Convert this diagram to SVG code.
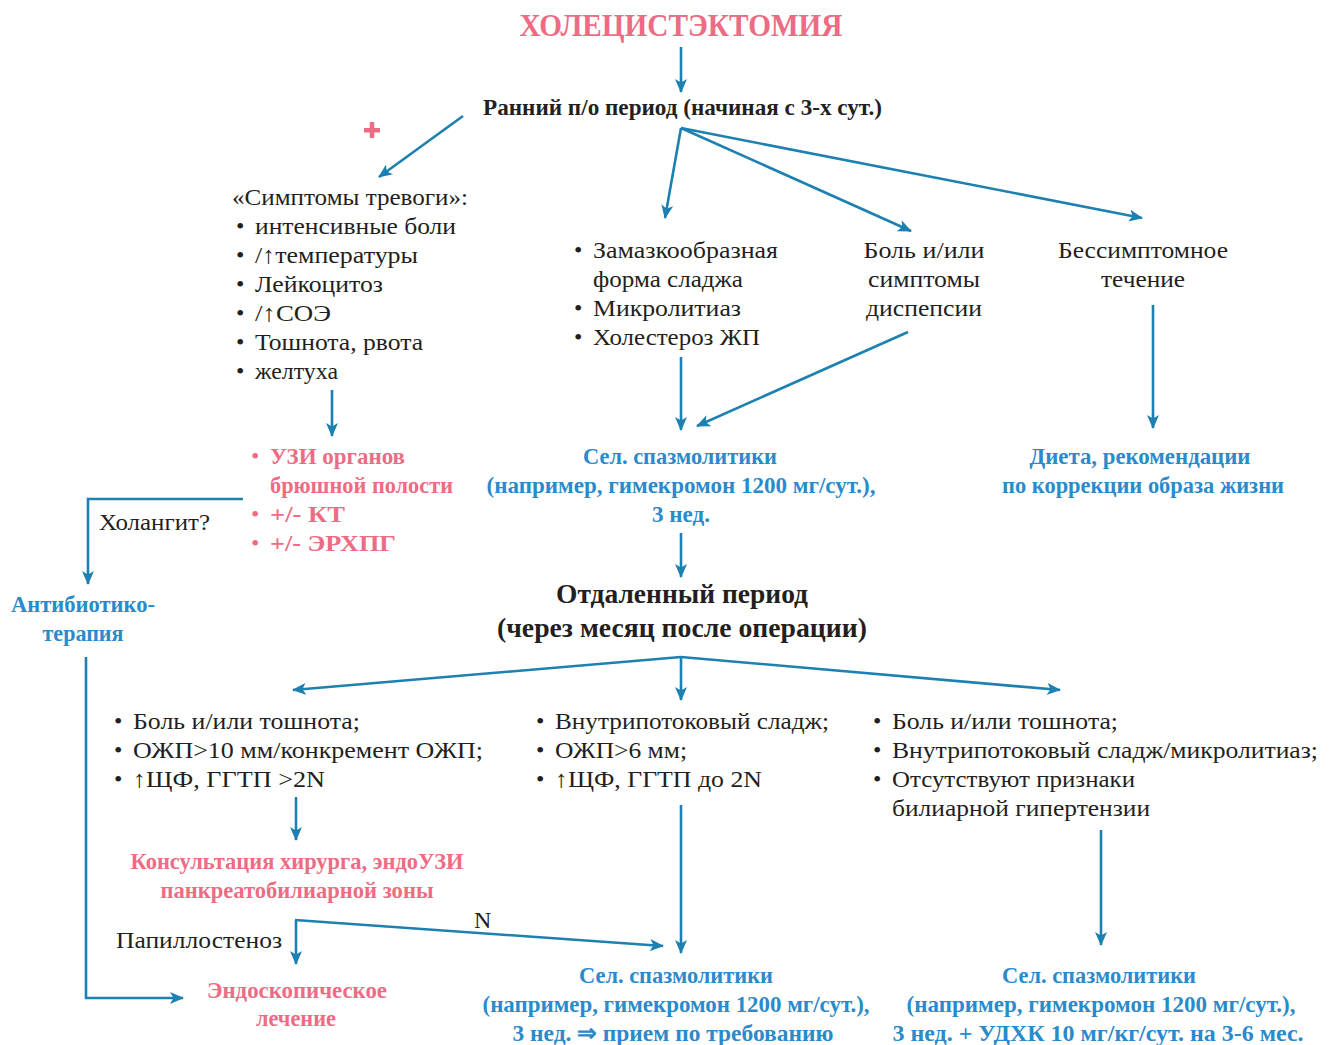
<svg xmlns="http://www.w3.org/2000/svg" width="1330" height="1045" viewBox="0 0 1330 1045">
<defs>
<style>
text{font-family:"Liberation Serif","Times New Roman",serif;}
.r{font-size:24px;fill:#231f20;}
.b{font-size:24px;font-weight:bold;}
.t{font-size:32px;}
.h{font-size:28px;}
.pk{fill:#ee6b84;}
.bl{fill:#2a8acb;}
.bk{fill:#231f20;}
.c{stroke:#1c80b0;stroke-width:2.6;fill:none;}
</style>
<marker id="ah" viewBox="0 0 14 12" refX="13" refY="6" markerWidth="14" markerHeight="12" markerUnits="userSpaceOnUse" orient="auto">
<path d="M0,0 L14,6 L0,12 L3.5,6 Z" fill="#1c80b0"/>
</marker>
</defs>
<rect width="1330" height="1045" fill="#ffffff"/>

<g id="connectors">
<line class="c" x1="681" y1="47" x2="681" y2="92" marker-end="url(#ah)"/>
<line class="c" x1="463" y1="116" x2="379" y2="177" marker-end="url(#ah)"/>
<line class="c" x1="681" y1="128" x2="665" y2="218" marker-end="url(#ah)"/>
<line class="c" x1="681" y1="128" x2="911" y2="231" marker-end="url(#ah)"/>
<line class="c" x1="681" y1="128" x2="1142" y2="218" marker-end="url(#ah)"/>
<line class="c" x1="332" y1="390" x2="332" y2="436" marker-end="url(#ah)"/>
<line class="c" x1="681" y1="357" x2="681" y2="430" marker-end="url(#ah)"/>
<line class="c" x1="908" y1="332" x2="697" y2="426" marker-end="url(#ah)"/>
<line class="c" x1="1153" y1="305" x2="1153" y2="428" marker-end="url(#ah)"/>
<polyline class="c" points="243,499 88,499 88,584" marker-end="url(#ah)"/>
<polyline class="c" points="86,657 86,998 183,998" marker-end="url(#ah)"/>
<line class="c" x1="681" y1="533" x2="681" y2="577" marker-end="url(#ah)"/>
<line class="c" x1="681" y1="657" x2="293" y2="690" marker-end="url(#ah)"/>
<line class="c" x1="681" y1="657" x2="681" y2="700" marker-end="url(#ah)"/>
<line class="c" x1="681" y1="657" x2="1060" y2="690" marker-end="url(#ah)"/>
<line class="c" x1="296" y1="797" x2="296" y2="840" marker-end="url(#ah)"/>
<line class="c" x1="296" y1="920" x2="296" y2="964" marker-end="url(#ah)"/>
<line class="c" x1="295" y1="920" x2="663" y2="946" marker-end="url(#ah)"/>
<line class="c" x1="681" y1="805" x2="681" y2="953" marker-end="url(#ah)"/>
<line class="c" x1="1101" y1="830" x2="1101" y2="945" marker-end="url(#ah)"/>
</g>

<g id="title">
<text class="b t pk" x="681" y="36" text-anchor="middle" textLength="323" lengthAdjust="spacingAndGlyphs">ХОЛЕЦИСТЭКТОМИЯ</text>
</g>

<g id="early">
<text class="b bk" x="483" y="115" textLength="399" lengthAdjust="spacingAndGlyphs">Ранний п/о период (начиная с 3-х сут.)</text>
</g>

<g id="plus">
<rect x="364" y="128" width="16" height="4.5" fill="#ee6b84"/>
<rect x="369.75" y="122" width="4.5" height="16" fill="#ee6b84"/>
</g>

<g id="alarm">
<text class="r" x="232" y="205" textLength="236" lengthAdjust="spacingAndGlyphs">«Симптомы тревоги»:</text>
<text class="r" x="236" y="234">•</text><text class="r" x="255" y="234" textLength="201" lengthAdjust="spacingAndGlyphs">интенсивные боли</text>
<text class="r" x="236" y="263">•</text><text class="r" x="255" y="263" textLength="163" lengthAdjust="spacingAndGlyphs">/↑температуры</text>
<text class="r" x="236" y="292">•</text><text class="r" x="255" y="292" textLength="128" lengthAdjust="spacingAndGlyphs">Лейкоцитоз</text>
<text class="r" x="236" y="321">•</text><text class="r" x="255" y="321" textLength="76" lengthAdjust="spacingAndGlyphs">/↑СОЭ</text>
<text class="r" x="236" y="350">•</text><text class="r" x="255" y="350" textLength="168" lengthAdjust="spacingAndGlyphs">Тошнота, рвота</text>
<text class="r" x="236" y="379">•</text><text class="r" x="255" y="379" textLength="83" lengthAdjust="spacingAndGlyphs">желтуха</text>
</g>

<g id="sludge">
<text class="r" x="574" y="258">•</text><text class="r" x="593" y="258" textLength="185" lengthAdjust="spacingAndGlyphs">Замазкообразная</text>
<text class="r" x="593" y="287" textLength="150" lengthAdjust="spacingAndGlyphs">форма сладжа</text>
<text class="r" x="574" y="316">•</text><text class="r" x="593" y="316" textLength="148" lengthAdjust="spacingAndGlyphs">Микролитиаз</text>
<text class="r" x="574" y="345">•</text><text class="r" x="593" y="345" textLength="167" lengthAdjust="spacingAndGlyphs">Холестероз ЖП</text>
</g>

<g id="pain">
<text class="r" x="924" y="258" text-anchor="middle" textLength="121" lengthAdjust="spacingAndGlyphs">Боль и/или</text>
<text class="r" x="924" y="287" text-anchor="middle" textLength="112" lengthAdjust="spacingAndGlyphs">симптомы</text>
<text class="r" x="924" y="316" text-anchor="middle" textLength="116" lengthAdjust="spacingAndGlyphs">диспепсии</text>
</g>

<g id="asympt">
<text class="r" x="1143" y="258" text-anchor="middle" textLength="170" lengthAdjust="spacingAndGlyphs">Бессимптомное</text>
<text class="r" x="1143" y="287" text-anchor="middle" textLength="84" lengthAdjust="spacingAndGlyphs">течение</text>
</g>

<g id="uzi">
<text class="r pk" x="251" y="464">•</text><text class="b pk" x="270" y="464" textLength="135" lengthAdjust="spacingAndGlyphs">УЗИ органов</text>
<text class="b pk" x="270" y="493" textLength="183" lengthAdjust="spacingAndGlyphs">брюшной полости</text>
<text class="r pk" x="251" y="522">•</text><text class="b pk" x="270" y="522" textLength="75" lengthAdjust="spacingAndGlyphs">+/- КТ</text>
<text class="r pk" x="251" y="551">•</text><text class="b pk" x="270" y="551" textLength="126" lengthAdjust="spacingAndGlyphs">+/- ЭРХПГ</text>
</g>

<g id="cholangitis">
<text class="r" x="99" y="530" textLength="111" lengthAdjust="spacingAndGlyphs">Холангит?</text>
</g>

<g id="antibiotic">
<text class="b bl" x="83" y="612" text-anchor="middle" textLength="144" lengthAdjust="spacingAndGlyphs">Антибиотико-</text>
<text class="b bl" x="83" y="641" text-anchor="middle" textLength="81" lengthAdjust="spacingAndGlyphs">терапия</text>
</g>

<g id="spasm1">
<text class="b bl" x="680" y="464" text-anchor="middle" textLength="194" lengthAdjust="spacingAndGlyphs">Сел. спазмолитики</text>
<text class="b bl" x="681" y="493" text-anchor="middle" textLength="389" lengthAdjust="spacingAndGlyphs">(например, гимекромон 1200 мг/сут.),</text>
<text class="b bl" x="681" y="522" text-anchor="middle" textLength="58" lengthAdjust="spacingAndGlyphs">3 нед.</text>
</g>

<g id="diet">
<text class="b bl" x="1140" y="464" text-anchor="middle" textLength="221" lengthAdjust="spacingAndGlyphs">Диета, рекомендации</text>
<text class="b bl" x="1143" y="493" text-anchor="middle" textLength="282" lengthAdjust="spacingAndGlyphs">по коррекции образа жизни</text>
</g>

<g id="late">
<text class="b h bk" x="682" y="603" text-anchor="middle" textLength="252" lengthAdjust="spacingAndGlyphs">Отдаленный период</text>
<text class="b h bk" x="682" y="637" text-anchor="middle" textLength="370" lengthAdjust="spacingAndGlyphs">(через месяц после операции)</text>
</g>

<g id="late-left">
<text class="r" x="114" y="729">•</text><text class="r" x="133" y="729" textLength="227" lengthAdjust="spacingAndGlyphs">Боль и/или тошнота;</text>
<text class="r" x="114" y="758">•</text><text class="r" x="133" y="758" textLength="350" lengthAdjust="spacingAndGlyphs">ОЖП&gt;10 мм/конкремент ОЖП;</text>
<text class="r" x="114" y="787">•</text><text class="r" x="133" y="787" textLength="192" lengthAdjust="spacingAndGlyphs">↑ЩФ, ГГТП &gt;2N</text>
</g>

<g id="late-mid">
<text class="r" x="536" y="729">•</text><text class="r" x="555" y="729" textLength="274" lengthAdjust="spacingAndGlyphs">Внутрипотоковый сладж;</text>
<text class="r" x="536" y="758">•</text><text class="r" x="555" y="758" textLength="132" lengthAdjust="spacingAndGlyphs">ОЖП&gt;6 мм;</text>
<text class="r" x="536" y="787">•</text><text class="r" x="555" y="787" textLength="207" lengthAdjust="spacingAndGlyphs">↑ЩФ, ГГТП до 2N</text>
</g>

<g id="late-right">
<text class="r" x="873" y="729">•</text><text class="r" x="892" y="729" textLength="226" lengthAdjust="spacingAndGlyphs">Боль и/или тошнота;</text>
<text class="r" x="873" y="758">•</text><text class="r" x="892" y="758" textLength="426" lengthAdjust="spacingAndGlyphs">Внутрипотоковый сладж/микролитиаз;</text>
<text class="r" x="873" y="787">•</text><text class="r" x="892" y="787" textLength="243" lengthAdjust="spacingAndGlyphs">Отсутствуют признаки</text>
<text class="r" x="892" y="816" textLength="258" lengthAdjust="spacingAndGlyphs">билиарной гипертензии</text>
</g>

<g id="consult">
<text class="b pk" x="297" y="869" text-anchor="middle" textLength="333" lengthAdjust="spacingAndGlyphs">Консультация хирурга, эндоУЗИ</text>
<text class="b pk" x="297" y="898" text-anchor="middle" textLength="273" lengthAdjust="spacingAndGlyphs">панкреатобилиарной зоны</text>
</g>

<g id="labels">
<text class="r" x="116" y="948" textLength="166" lengthAdjust="spacingAndGlyphs">Папиллостеноз</text>
<text class="r" x="474" y="928">N</text>
</g>

<g id="endoscopic">
<text class="b pk" x="297" y="998" text-anchor="middle" textLength="180" lengthAdjust="spacingAndGlyphs">Эндоскопическое</text>
<text class="b pk" x="296" y="1026" text-anchor="middle" textLength="80" lengthAdjust="spacingAndGlyphs">лечение</text>
</g>

<g id="spasm2">
<text class="b bl" x="676" y="983" text-anchor="middle" textLength="194" lengthAdjust="spacingAndGlyphs">Сел. спазмолитики</text>
<text class="b bl" x="676" y="1012" text-anchor="middle" textLength="387" lengthAdjust="spacingAndGlyphs">(например, гимекромон 1200 мг/сут.),</text>
<text class="b bl" x="673" y="1041" text-anchor="middle" textLength="321" lengthAdjust="spacingAndGlyphs">3 нед. ⇒  прием по требованию</text>
</g>

<g id="spasm3">
<text class="b bl" x="1099" y="983" text-anchor="middle" textLength="194" lengthAdjust="spacingAndGlyphs">Сел. спазмолитики</text>
<text class="b bl" x="1101" y="1012" text-anchor="middle" textLength="389" lengthAdjust="spacingAndGlyphs">(например, гимекромон 1200 мг/сут.),</text>
<text class="b bl" x="1098" y="1041" text-anchor="middle" textLength="411" lengthAdjust="spacingAndGlyphs">3 нед. + УДХК 10 мг/кг/сут. на 3-6 мес.</text>
</g>
</svg>
